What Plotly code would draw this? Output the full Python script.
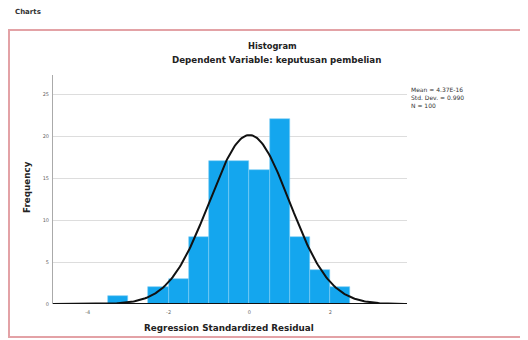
import numpy as np
import plotly.graph_objects as go

bin_left = [-3.5, -2.5, -2.0, -1.5, -1.0, -0.5, 0.0, 0.5, 1.0, 1.5, 2.0]
counts = [1, 2, 3, 8, 17, 17, 16, 22, 8, 4, 2]
bin_width = 0.5
stat_mean = 0.0
stat_sd = 0.990
stat_n = 100
stats_lines = ["Mean = 4.37E-16", "Std. Dev. = 0.990", "N = 100"]
x_ticks = [-4, -2, 0, 2]
y_ticks = [0, 5, 10, 15, 20, 25]

centers = [b + bin_width / 2 for b in bin_left]

xs = np.linspace(-4.9, 3.9, 300)
ys = stat_n * bin_width / (stat_sd * np.sqrt(2 * np.pi)) * np.exp(-0.5 * ((xs - stat_mean) / stat_sd) ** 2)

# page body has an 8px margin, so the figure is 8px smaller and everything shifted
OFF = 8
PL, PR, PT, PB = 53, 407, 75, 304  # plot area in screen pixels
PW, PH = PR - PL, PB - PT


def px(X):
    return (X - PL) / PW


def py(Y):
    return (PB - Y) / PH


fig = go.Figure()
fig.add_trace(go.Bar(
    x=centers, y=counts, width=bin_width,
    marker=dict(color="#14a6ee", line=dict(color="#7fcdf5", width=0.6)),
    hoverinfo="skip",
))
fig.add_trace(go.Scatter(
    x=xs, y=ys, mode="lines",
    line=dict(color="#111111", width=2),
    hoverinfo="skip",
))

fig.update_layout(
    width=528 - OFF, height=340 - OFF,
    margin=dict(l=PL - OFF, r=528 - PR, t=PT - OFF, b=340 - PB),
    paper_bgcolor="white",
    plot_bgcolor="white",
    showlegend=False,
    bargap=0,
    font=dict(family="DejaVu Sans", size=5, color="#555555"),
    xaxis=dict(
        range=[-4.86, 3.9], tickvals=x_ticks, ticktext=[str(t) for t in x_ticks],
        showgrid=False, zeroline=False, showline=False,
        ticks="outside", ticklen=3, tickcolor="rgba(0,0,0,0)",
        tickfont=dict(size=5, color="#666666"),
    ),
    yaxis=dict(
        range=[0, 27.3], tickvals=y_ticks, ticktext=[str(t) for t in y_ticks],
        showgrid=True, gridcolor="#dddddd", gridwidth=1, zeroline=False,
        showline=True, linecolor="#aaaaaa", linewidth=1,
        ticks="outside", ticklen=2, tickcolor="rgba(0,0,0,0)",
        tickfont=dict(size=5, color="#666666"),
    ),
)

# outer frame
fig.add_shape(type="rect", xref="paper", yref="paper",
              x0=px(9), x1=px(522), y0=py(337), y1=py(30),
              line=dict(color="#e3a2a6", width=2), fillcolor="rgba(0,0,0,0)", layer="below")
# x axis baseline
fig.add_shape(type="line", xref="paper", yref="y", x0=0, x1=1, y0=0, y1=0,
              line=dict(color="#111111", width=2))


def label(text, X, Y, size, xanchor="center", **kw):
    fig.add_annotation(text=text, xref="paper", yref="paper", x=px(X), y=py(Y),
                       showarrow=False, xanchor=xanchor, yanchor="middle",
                       font=dict(size=size, color=kw.pop("color", "#222222")), **kw)


label("<b>Charts</b>", 13, 12, 7, xanchor="left", color="#333333")
label("<b>Histogram</b>", 272, 46, 8.3)
label("<b>Dependent Variable: keputusan pembelian</b>", 276, 60, 8.7)
label("<b>Frequency</b>", 27, 187, 8.8, textangle=-90)
label("<b>Regression Standardized Residual</b>", 229, 328, 8.8)
fig.add_annotation(text="<br>".join(stats_lines), xref="paper", yref="paper",
                   x=px(409), y=py(84), showarrow=False, xanchor="left", yanchor="top",
                   align="left", font=dict(size=6, color="#333333"))

fig.write_html("out.html")
